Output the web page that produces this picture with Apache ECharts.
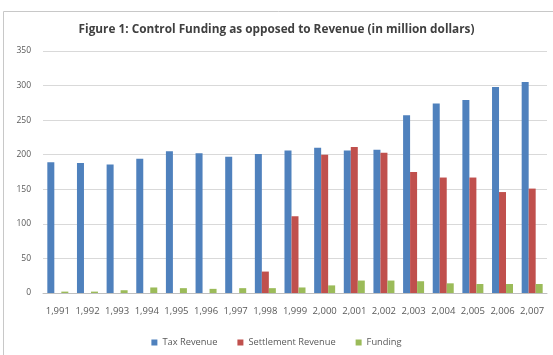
<!DOCTYPE html>
<html>
<head>
<meta charset="utf-8">
<script src="https://cdn.jsdelivr.net/npm/echarts@6/dist/echarts.min.js"></script>
<style>html,body{margin:0;padding:0;background:#fff}#c{width:553px;height:355px}</style>
</head>
<body>
<div id="c"></div>
<script>
var titleText = 'Figure 1: Control Funding as opposed to Revenue (in million dollars)';
var categories = ['1,991','1,992','1,993','1,994','1,995','1,996','1,997','1,998','1,999','2,000','2,001','2,002','2,003','2,004','2,005','2,006','2,007'];
var taxRevenue = [189,188,186,194,205,202,197,201,206,210,206,207,257,274,279,298,305];
var settlementRevenue = [0,0,0,0,0,0,0,31,111,200,211,203,175,167,167,146,151];
var funding = [2,2,4,8,7,6,7,7,8,11,18,18,17,14,13,13,13];
var yTicks = [0,50,100,150,200,250,300,350];

var chart = echarts.init(document.getElementById('c'));
var font = 'Open Sans';
chart.setOption({
  animation: false,
  backgroundColor: '#fff',
  title: {
    text: titleText, left: 'center', top: 19,
    textStyle: {fontFamily: font, fontSize: 11.8, fontWeight: 'bold', color: '#404040'}
  },
  graphic: [{
    type: 'rect', shape: {x: 3.5, y: 11.5, width: 600, height: 400},
    style: {fill: 'none', stroke: '#c8c8c8', lineWidth: 1}, silent: true
  }],
  legend: {
    bottom: 3, left: 'center', itemWidth: 6, itemHeight: 6, itemGap: 20,
    icon: 'rect',
    textStyle: {fontFamily: font, fontSize: 9.3, color: '#595959'},
    data: ['Tax Revenue','Settlement Revenue','Funding']
  },
  grid: {left: 43, right: 6, top: 51, bottom: 62, containLabel: false},
  xAxis: {
    type: 'category', data: categories,
    axisLine: {lineStyle: {color: '#bfbfbf'}},
    axisTick: {show: false},
    axisLabel: {interval: 0, fontFamily: font, fontSize: 9.5, color: '#595959', margin: 13}
  },
  yAxis: {
    type: 'value', min: yTicks[0], max: yTicks[yTicks.length-1], interval: 50,
    axisLine: {show: false}, axisTick: {show: false},
    axisLabel: {fontFamily: font, fontSize: 8.5, color: '#595959', margin: 12},
    splitLine: {lineStyle: {color: '#d9d9d9'}}
  },
  series: [
    {name: 'Tax Revenue', type: 'bar', data: taxRevenue, barWidth: 7, barGap: '0%', itemStyle: {color: '#4F81BD'}},
    {name: 'Settlement Revenue', type: 'bar', data: settlementRevenue, barWidth: 7, barGap: '0%', itemStyle: {color: '#C0504D'}},
    {name: 'Funding', type: 'bar', data: funding, barWidth: 7, barGap: '0%', itemStyle: {color: '#9BBB59'}}
  ]
});
</script>
</body>
</html>
